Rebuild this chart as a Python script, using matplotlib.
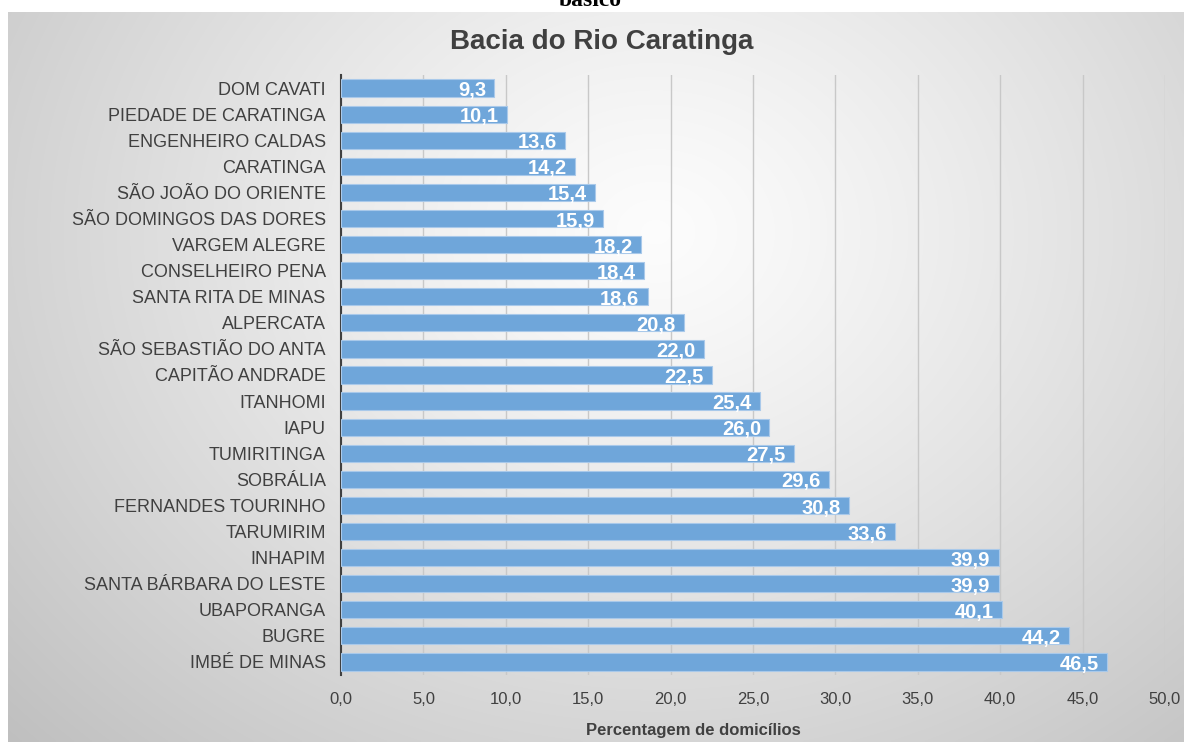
import numpy as np
import matplotlib
matplotlib.use("Agg")
import matplotlib.pyplot as plt
from matplotlib.ticker import FuncFormatter

municipios = ["DOM CAVATI", "PIEDADE DE CARATINGA", "ENGENHEIRO CALDAS", "CARATINGA",
              "SÃO JOÃO DO ORIENTE", "SÃO DOMINGOS DAS DORES", "VARGEM ALEGRE",
              "CONSELHEIRO PENA", "SANTA RITA DE MINAS", "ALPERCATA",
              "SÃO SEBASTIÃO DO ANTA", "CAPITÃO ANDRADE", "ITANHOMI", "IAPU",
              "TUMIRITINGA", "SOBRÁLIA", "FERNANDES TOURINHO", "TARUMIRIM",
              "INHAPIM", "SANTA BÁRBARA DO LESTE", "UBAPORANGA", "BUGRE", "IMBÉ DE MINAS"]
valores = [9.3, 10.1, 13.6, 14.2, 15.4, 15.9, 18.2, 18.4, 18.6, 20.8, 22.0, 22.5,
           25.4, 26.0, 27.5, 29.6, 30.8, 33.6, 39.9, 39.9, 40.1, 44.2, 46.5]
xticks = [0, 5, 10, 15, 20, 25, 30, 35, 40, 45, 50]

plt.rcParams['font.family'] = ['Liberation Sans', 'DejaVu Sans']

W, H = 1184, 742
fig = plt.figure(figsize=(W / 100, H / 100), dpi=100)
fig.patch.set_facecolor("white")

# gradient panel
px0, py0 = 8 / W, 0.0
pw, ph = 1 - px0, (H - 12) / H
bg = fig.add_axes([px0, py0, pw, ph], zorder=0)
ny, nx = 300, 480
yy, xx = np.mgrid[0:ny, 0:nx]
cx, cy = 0.55 * nx, 0.3 * ny
r = np.sqrt(((xx - cx) / nx) ** 2 + ((yy - cy) / ny * 0.75) ** 2)
r = r / r.max()
v = 0.99 - 0.24 * np.clip(r, 0, 1) ** 1.2
img = np.dstack([v, v, v])
bg.imshow(img, aspect='auto', extent=[0, 1, 1, 0], interpolation='bilinear')
bg.set_axis_off()

fig.text(590 / W, 1 - 6 / H, "básico", ha='center', va='baseline',
         fontsize=17, fontweight='bold', family='Liberation Serif', color='black')

ax = fig.add_axes([341 / W, 67 / H, (1165 - 341) / W, (674 - 74) / H], zorder=1)
ax.patch.set_alpha(0)
y = np.arange(len(municipios))
bars = ax.barh(y, valores, height=0.66, color='#6fa6da', edgecolor='#a9c9ea',
               linewidth=0.8, zorder=3)
ax.set_ylim(len(municipios) - 0.5, -0.5)
ax.set_xlim(0, 50)
ax.set_yticks(y)
ax.set_yticklabels(municipios, fontsize=13, color='#404040')
ax.set_xticks(xticks)
ax.xaxis.set_major_formatter(FuncFormatter(lambda v, p: f"{v:.1f}".replace('.', ',')))
ax.tick_params(axis='x', labelsize=12, colors='#404040', length=0, pad=12)
ax.tick_params(axis='y', length=0, pad=11)
ax.grid(axis='x', color='#c8c8c8', linewidth=1, zorder=0)
for s in ['top', 'right', 'bottom']:
    ax.spines[s].set_visible(False)
ax.spines['left'].set_color('#404040')
ax.spines['left'].set_linewidth(1.5)

for yi, v in zip(y, valores):
    ax.text(v - 0.5, yi + 0.1, f"{v:.1f}".replace('.', ','), ha='right', va='center',
            color='white', fontsize=14.5, fontweight='bold', zorder=4)

fig.text(693 / W, 1 - 731 / H, "Percentagem de domicílios", ha='center', va='center',
         fontsize=12, fontweight='bold', color='#404040')
fig.text(602 / W, 1 - 42 / H, "Bacia do Rio Caratinga", ha='center', va='center',
         fontsize=20, fontweight='bold', color='#404040')

fig.savefig("out.png", dpi=100)
